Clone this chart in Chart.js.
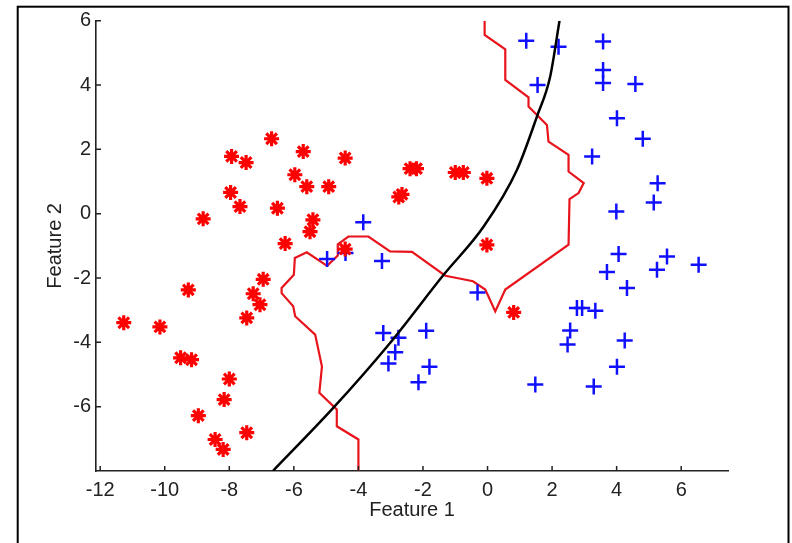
<!DOCTYPE html>
<html>
<head>
<meta charset="utf-8">
<script src="https://cdn.jsdelivr.net/npm/chart.js@4/dist/chart.umd.min.js"></script>
<style>
  html, body { margin: 0; padding: 0; background: #fff; }
  canvas { display: block; }
</style>
</head>
<body>
<canvas id="c" width="792" height="543"></canvas>
<script>
// ---- data ----
const xTicks = [-12, -10, -8, -6, -4, -2, 0, 2, 4, 6];
const yTicks = [-6, -4, -2, 0, 2, 4, 6];

const class1X = [-11.27, -10.15, -9.27, -7.26, -7.05, -7.46, -6.95, -9.51, -9.17, -8.0, -8.16, -8.96, -7.46, -8.44, -8.19,
  -6.69, -5.71, -4.41, -7.93, -7.48, -5.97, -5.60, -4.92, -7.96, -7.67, -6.51, -8.81, -5.41, -5.50, -6.27, -4.41,
  -2.40, -2.20, -2.75, -2.65, -1.00, -0.75, -0.02, -0.02, 0.81];
const class1Y = [-3.39, -3.52, -2.37, -2.49, -2.83, -3.24, -2.04, -4.48, -4.54, -5.14, -5.78, -6.28, -6.81, -7.02, -7.33,
  2.33, 1.93, 1.73, 1.78, 1.59, 1.21, 0.84, 0.84, 0.66, 0.22, 0.17, -0.16, -0.19, -0.56, -0.93, -1.10,
  1.40, 1.40, 0.52, 0.60, 1.28, 1.28, 1.10, -0.97, -3.07];

const class2X = [1.20, 2.20, 3.58, 3.58, 3.58, 4.58, 1.55, 4.01, 4.81, 3.24, 5.27, 5.15, 3.99, 4.06, 5.56, 6.54, 3.70, 5.25,
  4.32, 2.77, 2.93, 3.34, 2.56, 2.48, 4.25, 4.01, 1.48, 3.29,
  -3.85, -4.97, -4.40, -3.27, -0.31, -3.23, -2.76, -2.86, -3.07, -1.90, -1.80, -2.14];
const class2Y = [5.38, 5.19, 5.35, 4.47, 4.06, 4.03, 4.00, 2.97, 2.33, 1.78, 0.95, 0.35, 0.07, -1.25, -1.33, -1.59, -1.81, -1.74,
  -2.31, -2.93, -2.93, -3.02, -3.63, -4.07, -3.94, -4.76, -5.31, -5.37,
  -0.27, -1.41, -1.22, -1.47, -2.45, -3.71, -3.86, -4.31, -4.66, -3.64, -4.76, -5.24];

const boundaryX = [-0.09, -0.09, 0.55, 0.55, 1.27, 1.27, 1.84, 1.89, 2.51, 2.51, 2.98, 2.82, 2.54, 2.51, 0.55, 0.24, -0.07,
  -0.45, -0.95, -1.31, -2.34, -3.02, -3.69, -4.31, -4.64, -4.64, -4.97, -5.60, -5.97, -6.00, -6.38, -6.38, -6.02,
  -5.96, -5.34, -5.13, -5.21, -4.67, -4.67, -4.00, -4.00];
const boundaryY = [6.0, 5.56, 5.11, 4.16, 3.62, 3.33, 2.76, 2.24, 1.83, 1.31, 0.95, 0.64, 0.45, -0.96, -2.36, -3.04, -2.36,
  -2.10, -2.00, -1.93, -1.19, -1.17, -0.71, -0.71, -0.95, -1.30, -1.62, -1.20, -1.38, -1.90, -2.31, -2.47, -2.88,
  -3.19, -3.76, -4.75, -5.57, -6.09, -6.61, -7.02, -8.0];

const curveX = [-6.65, -4.78, -3.02, -1.36, -0.12, 0.91, 1.53, 1.94, 2.23];
const curveY = [-8.0, -6.04, -4.02, -1.90, -0.40, 1.36, 3.02, 4.26, 6.0];

const zip = (xs, ys) => xs.map((x, i) => ({ x: x, y: ys[i] }));

// ---- plugins ----
const paperPlugin = {
  id: 'paper',
  beforeDraw(chart) {
    const ctx = chart.ctx;
    ctx.save();
    ctx.fillStyle = '#ffffff';
    ctx.fillRect(0, 0, chart.width, chart.height);
    ctx.restore();
  },
  afterDraw(chart) {
    const ctx = chart.ctx;
    const xs = chart.scales.x, ys = chart.scales.y;
    const a = chart.chartArea;
    ctx.save();
    ctx.strokeStyle = '#222';
    ctx.lineWidth = 1.5;
    ctx.beginPath();
    xTicks.forEach(v => {
      const px = xs.getPixelForValue(v);
      ctx.moveTo(px, a.bottom);
      ctx.lineTo(px, a.bottom - 5);
    });
    yTicks.forEach(v => {
      const py = ys.getPixelForValue(v);
      ctx.moveTo(a.left, py);
      ctx.lineTo(a.left + 5, py);
    });
    ctx.stroke();
    // outer frame
    ctx.strokeStyle = '#000';
    ctx.lineWidth = 2;
    ctx.strokeRect(17.7, 6.7, 770.8, 560);
    ctx.restore();
  }
};

const tickFont = { family: '"Liberation Sans", Arial, sans-serif', size: 20 };

new Chart(document.getElementById('c'), {
  type: 'scatter',
  data: {
    datasets: [
      {
        label: 'curve',
        data: zip(curveX, curveY),
        showLine: true,
        borderColor: '#000000',
        borderWidth: 2.5,
        pointRadius: 0,
        cubicInterpolationMode: 'monotone',
        order: 0
      },
      {
        label: 'class1',
        data: zip(class1X, class1Y),
        pointStyle: 'star',
        pointRadius: 7.5,
        pointBorderWidth: 3.2,
        borderColor: '#ff0000',
        backgroundColor: '#ff0000',
        order: 1
      },
      {
        label: 'class2',
        data: zip(class2X, class2Y),
        pointStyle: 'cross',
        pointRadius: 8,
        pointBorderWidth: 2.5,
        borderColor: '#1010ff',
        backgroundColor: '#1010ff',
        order: 2
      },
      {
        label: 'boundary',
        data: zip(boundaryX, boundaryY),
        showLine: true,
        borderColor: '#e8141c',
        borderWidth: 2.2,
        pointRadius: 0,
        tension: 0,
        order: 3
      }
    ]
  },
  options: {
    responsive: false,
    devicePixelRatio: 1,
    animation: false,
    events: [],
    layout: { padding: { left: 0, top: 20.7, right: 64, bottom: 0 } },
    plugins: { legend: { display: false }, tooltip: { enabled: false } },
    scales: {
      x: {
        type: 'linear',
        min: -12.13,
        max: 7.45,
        afterBuildTicks: s => { s.ticks = xTicks.map(v => ({ value: v })); },
        afterFit: s => { s.height = 72; },
        grid: { display: false, drawTicks: false },
        border: { display: true, color: '#222', width: 1.6 },
        ticks: { font: tickFont, color: '#222', padding: 7, maxRotation: 0, autoSkip: false },
        title: { display: true, text: 'Feature 1', font: tickFont, color: '#222', padding: { top: 0, bottom: 21 } }
      },
      y: {
        type: 'linear',
        min: -8,
        max: 6,
        afterBuildTicks: s => { s.ticks = yTicks.map(v => ({ value: v })); },
        afterFit: s => { s.width = 96; },
        grid: { display: false, drawTicks: false },
        border: { display: true, color: '#222', width: 1.6 },
        ticks: { font: tickFont, color: '#222', padding: 5, autoSkip: false },
        title: { display: true, text: 'Feature 2', font: tickFont, color: '#222', padding: { top: 43, bottom: 0 } }
      }
    }
  },
  plugins: [paperPlugin]
});
</script>
</body>
</html>
